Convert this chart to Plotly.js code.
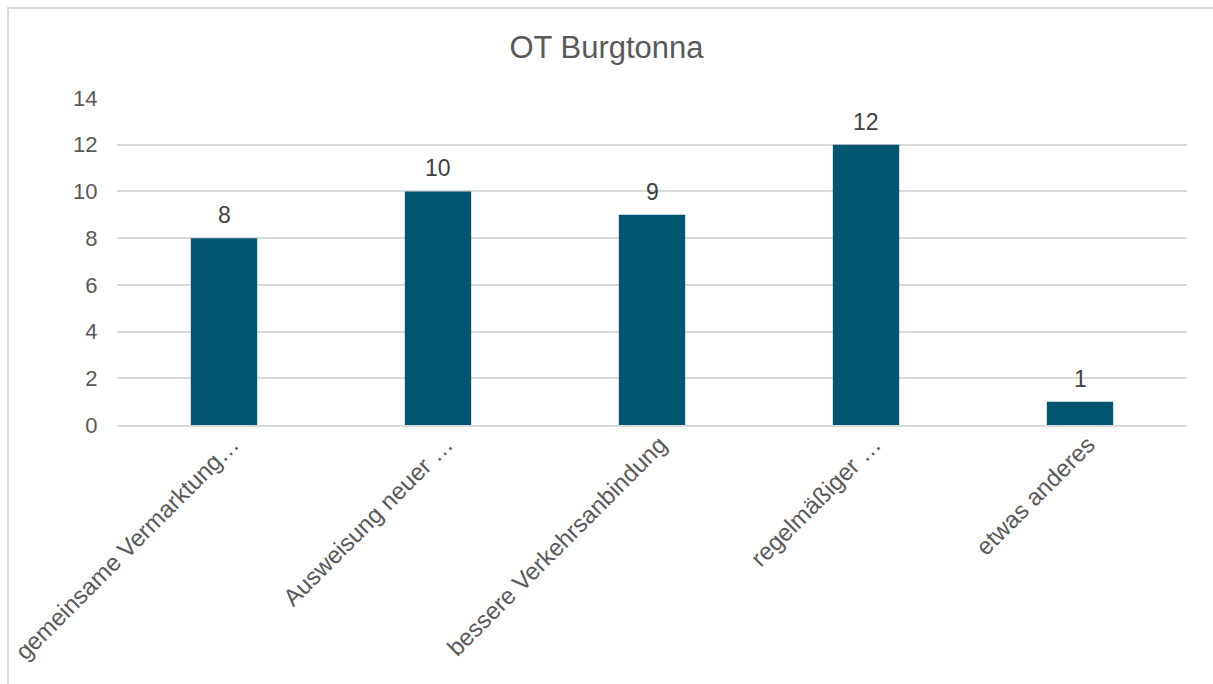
<!DOCTYPE html>
<html>
<head>
<meta charset="utf-8">
<script src="https://cdn.plot.ly/plotly-3.0.1.min.js"></script>
<style>
  html, body { margin: 0; padding: 0; background: #ffffff; }
  #wrap { position: relative; width: 1213px; height: 684px; overflow: hidden; }
  #chart { position: absolute; left: 0; top: 0; width: 1213px; height: 684px; }
  #frame { position: absolute; left: 7px; top: 7px; width: 1220px; height: 700px;
           border-top: 2px solid #d9d9d9; border-left: 2px solid #d9d9d9; pointer-events: none; }
</style>
</head>
<body>
<div id="wrap">
  <div id="chart"></div>
  <div id="frame"></div>
</div>
<script>
const categories = [
  "gemeinsame Vermarktung…",
  "Ausweisung neuer …",
  "bessere Verkehrsanbindung",
  "regelmäßiger …",
  "etwas anderes"
];
const values = [8, 10, 9, 12, 1];
const yTicks = [0, 2, 4, 6, 8, 10, 12, 14];
const chartTitle = "OT Burgtonna";

const font = "Liberation Sans, Arial, sans-serif";

const trace = {
  type: "bar",
  x: categories,
  y: values,
  marker: { color: "#02566f" },
  hoverinfo: "skip"
};

const annotations = categories.map((c, i) => ({
  x: c,
  y: values[i],
  xref: "x",
  yref: "y",
  text: String(values[i]),
  showarrow: false,
  yanchor: "bottom",
  yshift: 8,
  font: { family: font, size: 23, color: "#404040" }
}));

const layout = {
  width: 1213,
  height: 684,
  paper_bgcolor: "#ffffff",
  plot_bgcolor: "#ffffff",
  margin: { l: 117, r: 26, t: 98, b: 259 },
  bargap: 0.69,
  showlegend: false,
  annotations: annotations,
  title: {
    text: chartTitle,
    font: { family: font, size: 31, color: "#595959" },
    x: 0.5, xanchor: "center",
    y: 0.931, yanchor: "middle", yref: "container"
  },
  xaxis: {
    type: "category",
    tickangle: -45,
    tickfont: { family: font, size: 24, color: "#595959" },
    ticklabelshift: 8,
    ticklabelstandoff: -6,
    showgrid: false,
    showline: true,
    linecolor: "#d9d9d9",
    linewidth: 2,
    ticks: "",
    zeroline: false,
    automargin: false
  },
  yaxis: {
    range: [0, 14],
    tickvals: yTicks,
    ticktext: yTicks.map(String),
    tickfont: { family: font, size: 22, color: "#595959" },
    showgrid: true,
    gridcolor: "#d9d9d9",
    gridwidth: 2,
    zeroline: false,
    showline: false,
    ticks: "outside",
    ticklen: 14,
    tickcolor: "rgba(0,0,0,0)",
    automargin: false
  }
};

Plotly.newPlot("chart", [trace], layout, { staticPlot: true, displayModeBar: false });
</script>
</body>
</html>
